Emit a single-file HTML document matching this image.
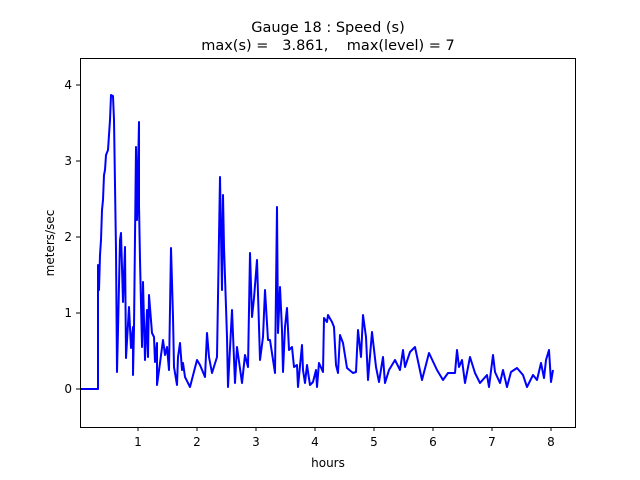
<!DOCTYPE html>
<html><head><meta charset="utf-8"><style>body{margin:0;background:#fff}svg{display:block}text{font-family:"DejaVu Sans","Liberation Sans",sans-serif;fill:#000}</style></head>
<body>
<svg width="640" height="480" xmlns="http://www.w3.org/2000/svg">
<rect width="640" height="480" fill="#fff"/>
<text x="328" y="32" font-size="14.5" text-anchor="middle" xml:space="preserve">Gauge 18 : Speed (s)</text>
<text x="328" y="50" font-size="14.5" text-anchor="middle" xml:space="preserve">max(s) =   3.861,    max(level) = 7</text>
<polyline fill="none" stroke="#0000ff" stroke-width="2" stroke-linejoin="round" points="80,389 98,389 98,265 99,290 100,255 101,240 102,210 103,200 104,175 105,170 106,155 108,150 110,120 111,95 113,96 114,120 116,250 117,372 118,330 120,240 121,233 123,302 125,247 126,358 129,307 131,348 133,327 133,375 134,328 136,147 137,220 139,122 139,205 140,260 142,347 143,282 145,360 147,310 148,357 149,295 152,333 154,337 155,362 157,343 157,385 160,363 163,340 165,355 167,347 169,370 171,248 173,317 174,367 177,385 178,357 180,343 182,370 183,363 185,377 190,387 197,360 200,365 205,377 207,333 209,357 212,373 217,357 220,177 222,290 223,195 224,247 227,337 228,387 232,310 235,383 237,347 242,383 245,355 248,367 250,253 252,317 254,298 257,260 260,360 263,337 265,290 268,340 270,340 275,373 277,207 278,333 280,287 282,330 283,372 285,327 287,308 289,350 292,347 294,367 297,365 298,387 302,345 303,370 305,383 307,365 310,385 313,382 316,370 317,387 319,363 323,372 324,318 327,322 328,315 332,322 334,327 336,365 338,373 340,335 343,343 347,368 353,373 356,372 358,330 361,357 363,315 366,337 368,380 372,332 376,367 379,382 383,357 385,383 389,370 395,360 400,370 403,350 405,367 410,352 415,347 422,380 429,353 437,370 443,380 448,373 455,373 457,350 459,367 462,360 465,383 470,357 475,373 480,383 487,375 489,387 493,355 495,372 500,383 503,370 507,387 511,372 517,368 523,375 527,387 533,375 537,380 541,363 544,378 546,360 549,350 551,382 553,370"/>
<rect x="80.5" y="58.5" width="495" height="369" fill="none" stroke="#000" stroke-width="1"/>
<g stroke="#000" stroke-width="1">
<line x1="138" y1="427" x2="138" y2="431"/><line x1="197" y1="427" x2="197" y2="431"/><line x1="256" y1="427" x2="256" y2="431"/><line x1="315" y1="427" x2="315" y2="431"/><line x1="374" y1="427" x2="374" y2="431"/><line x1="433" y1="427" x2="433" y2="431"/><line x1="492" y1="427" x2="492" y2="431"/><line x1="551" y1="427" x2="551" y2="431"/>
<line x1="76" y1="389" x2="80" y2="389"/><line x1="76" y1="313" x2="80" y2="313"/><line x1="76" y1="237" x2="80" y2="237"/><line x1="76" y1="161" x2="80" y2="161"/><line x1="76" y1="85" x2="80" y2="85"/>
</g>
<g font-size="12" text-anchor="middle">
<text x="138" y="446">1</text><text x="197" y="446">2</text><text x="256" y="446">3</text><text x="315" y="446">4</text><text x="374" y="446">5</text><text x="433" y="446">6</text><text x="492" y="446">7</text><text x="551" y="446">8</text>
<text x="328" y="467">hours</text>
</g>
<g font-size="12" text-anchor="end">
<text x="72" y="393">0</text><text x="72" y="317">1</text><text x="72" y="241">2</text><text x="72" y="165">3</text><text x="72" y="89">4</text>
</g>
<text transform="translate(54,243) rotate(-90)" font-size="12" text-anchor="middle">meters/sec</text>
</svg>
</body></html>
